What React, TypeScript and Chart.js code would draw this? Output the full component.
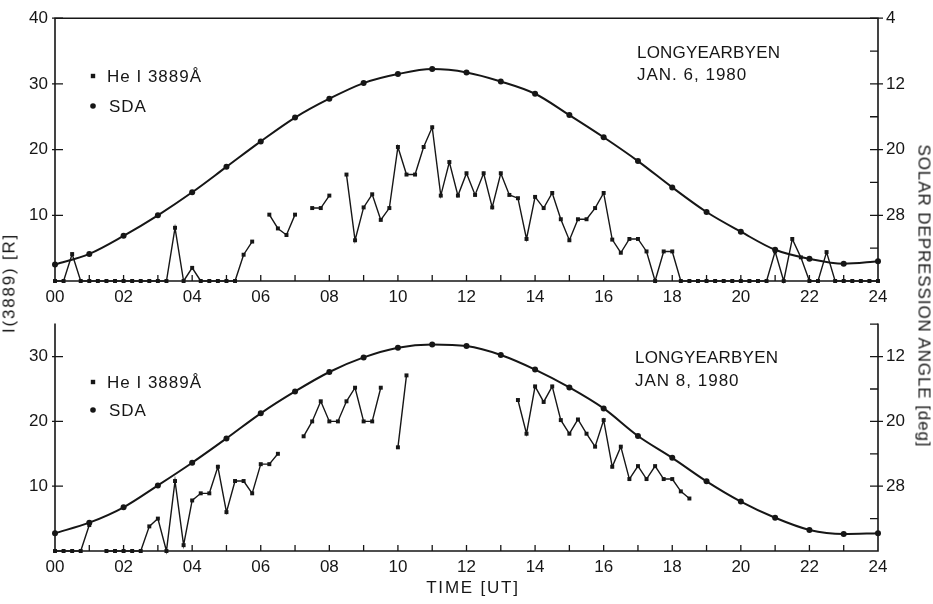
import React, { useEffect, useRef } from 'react';
import { Chart, registerables } from 'chart.js';

Chart.register(...registerables);

// ---------- data ----------
const SDA_HOURS = [0, 1, 2, 3, 4, 5, 6, 7, 8, 9, 10, 11, 12, 13, 14, 15, 16, 17, 18, 19, 20, 21, 22, 23, 24];

// Solar depression angle [deg], Jan 6 1980
const SDA_JAN6 = [34.0, 32.7, 30.5, 28.0, 25.2, 22.1, 19.0, 16.1, 13.8, 11.9, 10.8, 10.2, 10.6, 11.7, 13.2, 15.8, 18.5, 21.4, 24.6, 27.6, 30.0, 32.2, 33.3, 33.9, 33.6];
// Solar depression angle [deg], Jan 8 1980
const SDA_JAN8 = [33.8, 32.5, 30.6, 27.9, 25.1, 22.1, 19.0, 16.3, 13.9, 12.1, 10.9, 10.5, 10.7, 11.8, 13.6, 15.8, 18.4, 21.8, 24.5, 27.4, 29.9, 31.9, 33.4, 33.9, 33.8];

// He I 3889 Å intensity [R], one value every 15 minutes from 00:00
const HEI_JAN6: (number | null)[] = [
  0, 0, 4.1, 0, 0, 0, 0, 0,
  0, 0, 0, 0, 0, 0, 8.1, 0,
  2.0, 0, 0, 0, 0, 0, 4.0, 6.0,
  null, 10.1, 8.0, 7.0, 10.1, null, 11.1, 11.1,
  13.0, null, 16.2, 6.2, 11.2, 13.2, 9.3, 11.1,
  20.4, 16.2, 16.2, 20.4, 23.4, 13.0, 18.1, 13.0,
  16.4, 13.1, 16.4, 11.2, 16.4, 13.1, 12.6, 6.4,
  12.8, 11.1, 13.4, 9.4, 6.2, 9.4, 9.4, 11.1,
  13.4, 6.3, 4.3, 6.4, 6.4, 4.5, 0, 4.5,
  4.5, 0, 0, 0, 0, 0, 0, 0,
  0, 0, 0, 0, 4.5, 0, 6.4, 3.6,
  0, 0, 4.4, 0, 0, 0, 0, 0,
  0,
];

const HEI_JAN8: (number | null)[] = [
  0, 0, 0, 0, 4.0, null, 0, 0,
  0, 0, 0, 3.8, 5.0, 0, 10.8, 0.9,
  7.8, 8.9, 8.9, 13.0, 6.0, 10.8, 10.8, 8.9,
  13.4, 13.4, 15.0, null, null, 17.7, 20.0, 23.1,
  20.0, 20.0, 23.1, 25.2, 20.0, 20.0, 25.2, null,
  16.0, 27.1, null, null, null, null, null, null,
  null, null, null, null, null, null, 23.3, 18.1,
  25.4, 23.0, 25.4, 20.2, 18.1, 20.3, 18.1, 16.1,
  20.2, 13.0, 16.1, 11.1, 13.1, 11.1, 13.1, 11.1,
  11.1, 9.2, 8.1,
];

const LEGEND_HEI = 'He I 3889Å';
const LEGEND_SDA = 'SDA';
const STATION = 'LONGYEARBYEN';
const DATE_TOP = 'JAN. 6, 1980';
const DATE_BOTTOM = 'JAN 8, 1980';
const X_TITLE = 'TIME [UT]';
const Y_TITLE = 'I(3889) [R]';
const Y2_TITLE = 'SOLAR DEPRESSION ANGLE [deg]';

// ---------- style ----------
const INK = '#161616';
const FAMILY = '"Liberation Sans", Arial, sans-serif';
const FONT_SIZE = 17;

type Note = { text: string; x: number; y: number; spacing: number; align?: CanvasTextAlign };

interface PanelSpec {
  hei: (number | null)[];
  sda: number[];
  yMax: number;
  angleMin: number;
  angleMax: number;
  padTop: number;
  xHeight: number;
  topBorder: boolean;
  legendY: [number, number];
  notes: Note[];
}

function makeDecor(p: PanelSpec) {
  return {
    id: 'decor',
    beforeDatasetsDraw(chart: any) {
      const { ctx, chartArea: a, scales } = chart;
      ctx.save();
      ctx.strokeStyle = INK;
      ctx.lineCap = 'square';
      ctx.lineWidth = 1.6;
      ctx.beginPath();
      ctx.moveTo(a.left, a.top);
      ctx.lineTo(a.left, a.bottom);
      ctx.lineTo(a.right, a.bottom);
      ctx.lineTo(a.right, a.top);
      if (p.topBorder) ctx.lineTo(a.left, a.top);
      ctx.stroke();

      ctx.lineWidth = 1.3;
      ctx.lineCap = 'butt';
      ctx.beginPath();
      for (const t of scales.x.ticks) {
        if (t.value <= scales.x.min || t.value >= scales.x.max) continue;
        const x = scales.x.getPixelForValue(t.value);
        ctx.moveTo(x, a.bottom);
        ctx.lineTo(x, a.bottom - 6);
      }
      for (const t of scales.y.ticks) {
        if (t.value <= scales.y.min) continue;
        const y = scales.y.getPixelForValue(t.value);
        ctx.moveTo(a.left - 3, y);
        ctx.lineTo(a.left + 8, y);
      }
      for (const t of scales.y2.ticks) {
        if (t.value >= scales.y2.max) continue;
        const y = scales.y2.getPixelForValue(t.value);
        const labelled = t.label !== '' && t.label != null;
        ctx.moveTo(a.right - 8, y);
        ctx.lineTo(a.right + (labelled ? 5 : 0), y);
      }
      ctx.stroke();
      ctx.restore();
    },
    afterDraw(chart: any) {
      const { ctx } = chart;
      ctx.save();
      ctx.fillStyle = INK;
      ctx.font = `${FONT_SIZE}px ${FAMILY}`;
      ctx.textBaseline = 'middle';
      const lx = 93;
      const [y1, y2] = p.legendY;
      const s = 2.2;
      ctx.fillRect(lx - s, y1 - s, 2 * s, 2 * s);
      ctx.beginPath();
      ctx.arc(lx, y2, 2.8, 0, Math.PI * 2);
      ctx.fill();
      (ctx as any).letterSpacing = '1px';
      ctx.textAlign = 'left';
      ctx.fillText(LEGEND_HEI, lx + 14, y1 + 1);
      ctx.fillText(LEGEND_SDA, lx + 16, y2 + 1);
      for (const n of p.notes) {
        (ctx as any).letterSpacing = `${n.spacing}px`;
        ctx.textAlign = n.align || 'left';
        ctx.fillText(n.text, n.x, n.y);
      }
      ctx.restore();
    },
  };
}

function buildConfig(p: PanelSpec): any {
  const tickFont = { family: FAMILY, size: FONT_SIZE };
  const pad2 = (v: number) => (v < 10 ? '0' + v : String(v));
  return {
    type: 'line',
    data: {
      datasets: [
        {
          label: LEGEND_HEI,
          data: p.hei.map((v, i) => ({ x: i / 4, y: v })),
          yAxisID: 'y',
          borderColor: INK,
          borderWidth: 1.4,
          pointStyle: 'rect',
          pointRadius: 2.8,
          pointBackgroundColor: INK,
          pointBorderWidth: 0,
          tension: 0,
          spanGaps: false,
          clip: false,
        },
        {
          label: LEGEND_SDA,
          data: p.sda.map((v, i) => ({ x: SDA_HOURS[i], y: v })),
          yAxisID: 'y2',
          borderColor: INK,
          borderWidth: 2,
          pointStyle: 'circle',
          pointRadius: 3,
          pointBackgroundColor: INK,
          pointBorderWidth: 0,
          cubicInterpolationMode: 'monotone',
          clip: false,
        },
      ],
    },
    options: {
      animation: false,
      responsive: false,
      maintainAspectRatio: false,
      events: [],
      layout: { padding: { top: p.padTop, left: 0, right: 0, bottom: 0 } },
      plugins: { legend: { display: false }, tooltip: { enabled: false }, title: { display: false } },
      scales: {
        x: {
          type: 'linear',
          min: 0,
          max: 24,
          grid: { display: false, drawTicks: false },
          border: { display: false },
          ticks: {
            stepSize: 1,
            autoSkip: false,
            maxRotation: 0,
            padding: 6,
            color: INK,
            font: tickFont,
            callback: (v: number) => (v % 2 === 0 ? pad2(v) : ''),
          },
          afterFit: (s: any) => {
            s.height = p.xHeight;
          },
        },
        y: {
          type: 'linear',
          position: 'left',
          min: 0,
          max: p.yMax,
          grid: { display: false, drawTicks: false },
          border: { display: false },
          ticks: {
            stepSize: 10,
            includeBounds: false,
            padding: 7,
            color: INK,
            font: tickFont,
            callback: (v: number) => (v > 0 && v % 10 === 0 ? String(v) : ''),
          },
          afterFit: (s: any) => {
            s.width = 55;
          },
        },
        y2: {
          type: 'linear',
          position: 'right',
          min: p.angleMin,
          max: p.angleMax,
          reverse: true,
          grid: { display: false, drawTicks: false },
          border: { display: false },
          ticks: {
            stepSize: 4,
            padding: 8,
            color: INK,
            font: tickFont,
            callback: (v: number) => ((v - 4) % 8 === 0 && v < 36 ? String(v) : ''),
          },
          afterFit: (s: any) => {
            s.width = 55;
          },
        },
      },
    },
    plugins: [makeDecor(p)],
  };
}

const TOP_SPEC: PanelSpec = {
  hei: HEI_JAN6,
  sda: SDA_JAN6,
  yMax: 40,
  angleMin: 4,
  angleMax: 36,
  padTop: 14,
  xHeight: 25,
  topBorder: true,
  legendY: [76, 106],
  notes: [
    { text: STATION, x: 637, y: 53, spacing: 0.2 },
    { text: DATE_TOP, x: 637, y: 75, spacing: 1 },
  ],
};

const BOTTOM_SPEC: PanelSpec = {
  hei: HEI_JAN8,
  sda: SDA_JAN8,
  yMax: 35,
  angleMin: 8,
  angleMax: 36,
  padTop: 11,
  xHeight: 53,
  topBorder: false,
  legendY: [76, 104],
  notes: [
    { text: STATION, x: 635, y: 52, spacing: 0.2 },
    { text: DATE_BOTTOM, x: 635, y: 75, spacing: 1 },
    { text: X_TITLE, x: 473, y: 282, spacing: 1.8, align: 'center' },
  ],
};

export default function App() {
  const topRef = useRef<HTMLCanvasElement>(null);
  const botRef = useRef<HTMLCanvasElement>(null);

  useEffect(() => {
    const c1 = new Chart(topRef.current as HTMLCanvasElement, buildConfig(TOP_SPEC));
    const c2 = new Chart(botRef.current as HTMLCanvasElement, buildConfig(BOTTOM_SPEC));
    return () => {
      c1.destroy();
      c2.destroy();
    };
  }, []);

  const titleBase: React.CSSProperties = {
    position: 'absolute',
    whiteSpace: 'nowrap',
    fontFamily: FAMILY,
    fontSize: FONT_SIZE,
    color: INK,
    lineHeight: '17px',
  };

  return (
    <div style={{ position: 'absolute', left: 0, top: 0, width: 933, height: 604, background: '#fff', overflow: 'hidden' }}>
      <canvas ref={topRef} width={933} height={306} style={{ position: 'absolute', left: 0, top: 0, width: 933, height: 306 }} />
      <canvas ref={botRef} width={933} height={298} style={{ position: 'absolute', left: 0, top: 306, width: 933, height: 298 }} />
      <div
        style={{
          ...titleBase,
          left: 924,
          top: 296,
          letterSpacing: '0.9px',
          transform: 'translate(-50%, -50%) rotate(90deg)',
        }}
      >
        {Y2_TITLE}
      </div>
      <div
        style={{
          ...titleBase,
          left: 9,
          top: 283,
          letterSpacing: '1.8px',
          transform: 'translate(-50%, -50%) rotate(-90deg)',
        }}
      >
        {Y_TITLE}
      </div>
    </div>
  );
}
